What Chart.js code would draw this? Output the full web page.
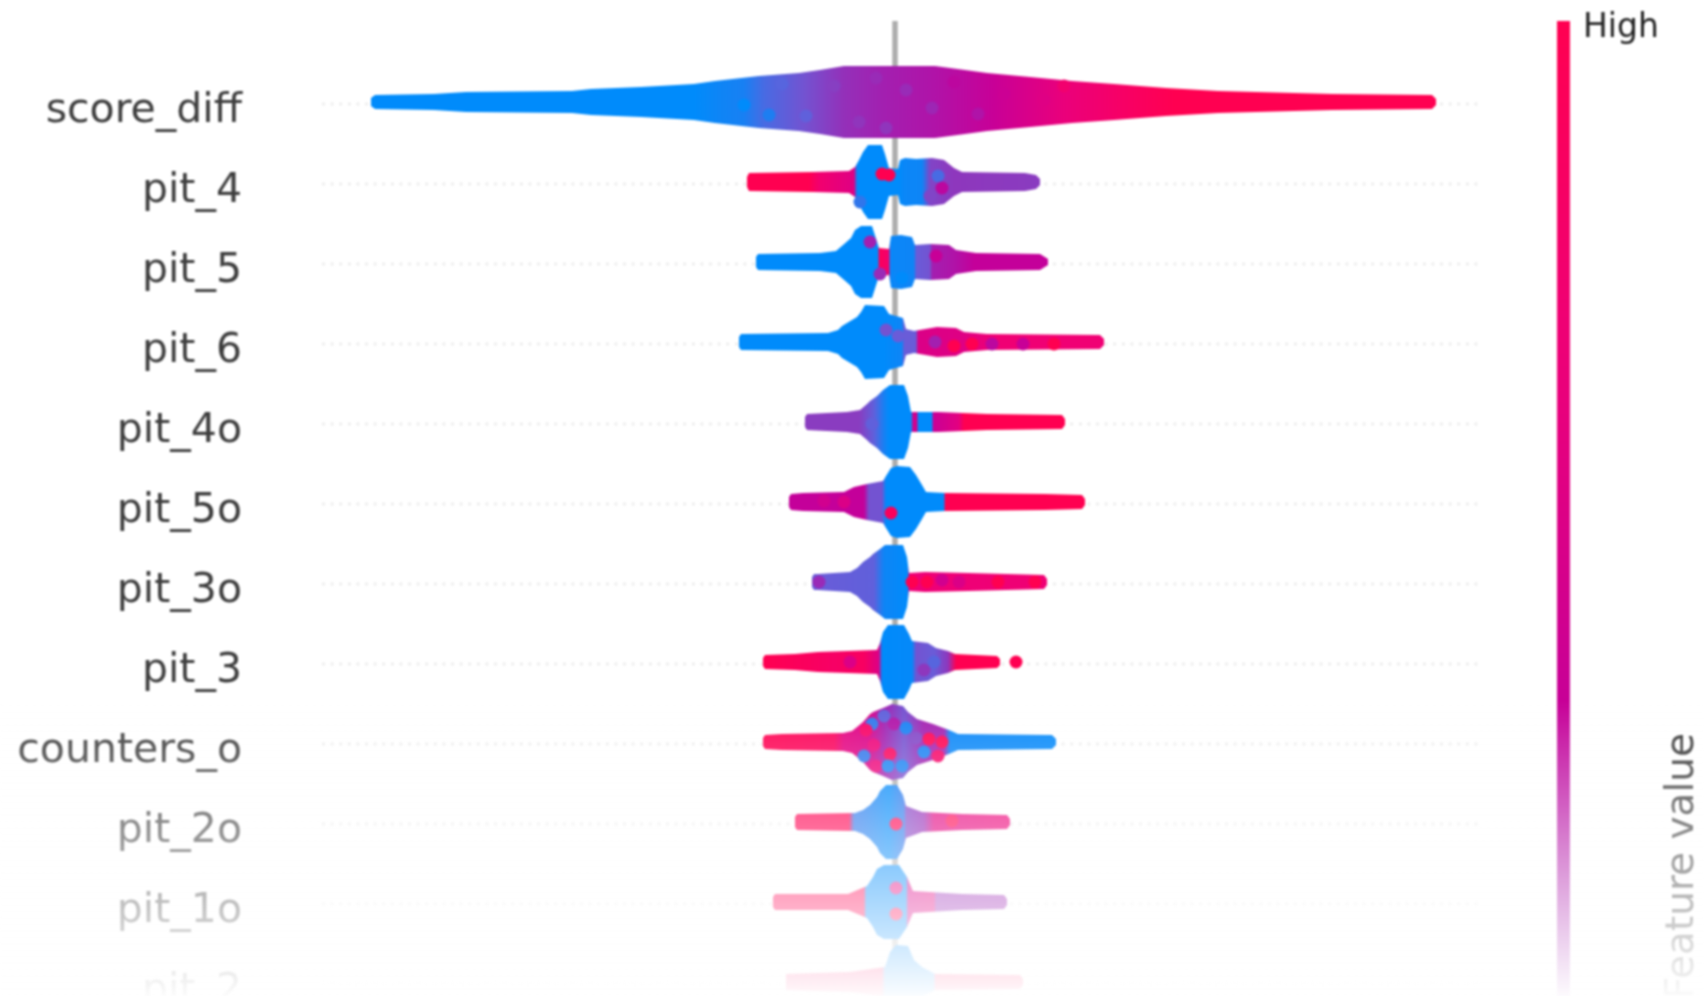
<!DOCTYPE html>
<html>
<head>
<meta charset="utf-8">
<style>
html,body{margin:0;padding:0;background:#fff;overflow:hidden}
canvas{display:block;filter:blur(0.8px)}
</style>
<script src="https://cdn.jsdelivr.net/npm/chart.js@4"></script>
</head>
<body>
<canvas id="c" width="1704" height="996"></canvas>
<script>
// Feature rows, top to bottom
const rowNames = ['score_diff','pit_4','pit_5','pit_6','pit_4o','pit_5o','pit_3o','pit_3','counters_o','pit_2o','pit_1o','pit_2'];
const colorbarTop = 'High';
const colorbarTitle = 'Feature value';

// Impact outline (x), swarm half height (h), feature value along x (fv), loose dots [x, dy, fv]
const score_diff_x = [-523,-519,-460,-428,-322,-303,-253,-200,-179,-135,-95,-74,-50,41,71,93,136,178,220,272,324,438,538,542];
const score_diff_h = [4,7,8,10,11,13,15,18,21,26,29,32,36,36,32,29,25,21,18,14,11,8,7,3];
const score_diff_fv = [[-523,0],[-200,0],[-175,.03],[-150,.05],[-130,.15],[-90,.25],[-50,.38],[-10,.45],[40,.5],[100,.6],[170,.78],[230,.9],[280,1],[542,1]];
const score_diff_dots = [[-150,3,0],[-125,13,.06],[-112,-18,.18],[-88,14,.2],[-60,-16,.32],[-35,20,.36],[-18,-24,.4],[-8,26,.36],[12,-12,.4],[38,6,.42],[60,-20,.55],[84,12,.5],[110,-8,.62],[150,-2,.72],[170,-16,.85]];

const pit_4_x = [-147,-145,-81,-45,-39,-35,-31,-26,-12,-9,-5,4,6,11,22,38,50,60,68,131,142,146];
const pit_4_h = [5,9,10,11,15,22,30,37,37,28,14,13,22,24,23,24,22,14,10,9,7,3];
const pit_4_fv = [[-147,1],[-85,1],[-75,.85],[-40,.72],[-37,0],[5,0],[10,.02],[28,.03],[36,.3],[60,.35],[146,.33]];
const pit_4_dots = [[-12,-8,1],[-5,-7,1],[-34,20,.1],[44,-6,.15],[48,6,.55],[36,14,.3]];

const pit_5_x = [-138,-136,-74,-58,-51,-43,-39,-33,-22,-15,-5,-3,7,18,21,36,55,62,82,146,154];
const pit_5_h = [5,8,9,11,17,24,32,36,36,14,13,26,27,25,17,18,17,12,9,8,3];
const pit_5_fv = [[-138,0],[-16,0],[-15,.95],[-5,.85],[-4,.02],[20,.03],[22,.22],[36,.25],[38,.45],[60,.5],[80,.58],[154,.58]];
const pit_5_dots = [[-24,-20,.45],[-14,12,.4],[8,16,0],[42,-6,.6]];

const pit_6_x = [-155,-153,-66,-56,-52,-47,-37,-33,-29,-10,-5,9,12,20,43,62,70,93,206,210];
const pit_6_h = [5,8,9,12,16,19,25,30,37,36,28,24,13,11,15,14,10,8,7,3];
const pit_6_fv = [[-155,0],[-10,0],[8,.03],[10,.22],[22,.22],[24,.7],[70,.72],[100,.82],[210,.82]];
const pit_6_dots = [[-8,-12,.25],[4,-6,.22],[41,0,.45],[60,4,1],[78,2,1],[98,2,.55],[129,2,.6],[160,2,1]];

const pit_4o_x = [-89,-87,-47,-34,-27,-24,-17,-11,-4,10,14,17,44,93,168,171];
const pit_4o_h = [5,8,10,12,18,21,26,32,37,37,26,10,10,8,7,3];
const pit_4o_fv = [[-89,.33],[-35,.33],[-20,.2],[-10,.05],[-5,0],[17,0],[19,.65],[23,.65],[24,0],[38,0],[39,.6],[65,.75],[70,1],[171,1]];
const pit_4o_dots = [[-22,2,.2]];

const pit_5o_x = [-105,-103,-91,-50,-40,-27,-11,-8,-3,3,16,22,28,32,51,151,188,191];
const pit_5o_h = [5,8,9,10,15,18,21,26,34,36,35,27,17,10,9,8,7,3];
const pit_5o_fv = [[-105,.58],[-30,.58],[-25,.25],[-12,.25],[-8,0],[50,0],[51,1],[191,1]];
const pit_5o_dots = [[-3,11,.95],[-70,-1,.65],[-50,0,.7]];

const pit_3o_x = [-82,-80,-76,-44,-37,-31,-24,-21,-14,-9,9,13,15,31,74,150,153];
const pit_3o_h = [5,8,8,10,14,20,25,28,33,37,37,25,9,10,9,7,3];
const pit_3o_fv = [[-82,.22],[-20,.2],[-10,.03],[14,0],[15,.8],[153,.82]];
const pit_3o_dots = [[18,0,1],[33,0,1],[48,-2,.65],[65,0,.7],[104,0,1],[141,0,1],[-75,0,.4]];

const pit_3_x = [-131,-129,-99,-76,-17,-14,-11,-6,10,15,18,34,42,54,61,103,106];
const pit_3_h = [4,7,8,10,12,19,30,37,37,28,21,19,14,11,8,6,3];
const pit_3_fv = [[-131,1],[-60,.9],[-30,.92],[-15,.7],[-12,0],[18,.01],[22,.25],[40,.22],[54,.35],[62,1],[106,1]];
const pit_3_dots = [[122,0,1],[-44,0,.7],[30,8,.35],[40,0,.18]];

const counters_o_x = [-131,-129,-112,-51,-42,-37,-31,-24,-21,-11,-2,9,14,23,39,55,64,158,162];
const counters_o_h = [4,7,8,9,11,15,20,28,30,34,38,36,30,23,18,12,8,7,3];
const counters_o_fv = [[-131,1],[-60,.95],[-50,.75],[-25,.7],[-10,.45],[10,.25],[30,.45],[50,.45],[56,.02],[162,.01]];
const counters_o_dots = [[-10,-26,.2],[-22,-18,.1],[-20,3,.8],[-28,-12,.9],[0,-18,.5],[12,-14,.05],[22,-4,.3],[35,-3,1],[48,0,1],[30,10,.05],[-4,12,.95],[-18,24,.8],[-6,24,.05],[8,24,.05],[-30,14,.1],[44,14,.9]];

const pit_2o_x = [-99,-97,-39,-31,-24,-17,-14,-8,3,9,12,28,68,113,116];
const pit_2o_h = [5,8,9,12,17,25,31,37,37,27,16,10,8,7,3];
const pit_2o_fv = [[-99,1],[-45,1],[-40,.1],[-5,0],[10,.1],[12,.3],[30,.4],[40,.75],[116,.8]];
const pit_2o_dots = [[2,2,1],[58,-1,1]];

const pit_1o_x = [-121,-119,-46,-27,-21,-17,-10,5,13,19,68,110,113];
const pit_1o_h = [5,8,8,16,25,33,37,37,25,11,8,7,3];
const pit_1o_fv = [[-121,1],[-30,1],[-28,0],[12,0],[14,.7],[40,.75],[42,.4],[113,.42]];
const pit_1o_dots = [[2,-14,.75],[2,12,1]];

const pit_2_x = [-108,-44,-9,-4,2,14,20,28,41,126,129];
const pit_2_h = [8,10,15,30,37,36,22,15,8,7,3];
const pit_2_fv = [[-108,.95],[-12,.95],[-9,0],[40,0],[41,1],[129,1]];
const pit_2_dots = [];

const rowSteps = [score_diff_x,pit_4_x,pit_5_x,pit_6_x,pit_4o_x,pit_5o_x,pit_3o_x,pit_3_x,counters_o_x,pit_2o_x,pit_1o_x,pit_2_x];
const rowSpread = [score_diff_h,pit_4_h,pit_5_h,pit_6_h,pit_4o_h,pit_5o_h,pit_3o_h,pit_3_h,counters_o_h,pit_2o_h,pit_1o_h,pit_2_h];
const rowValues = [score_diff_fv,pit_4_fv,pit_5_fv,pit_6_fv,pit_4o_fv,pit_5o_fv,pit_3o_fv,pit_3_fv,counters_o_fv,pit_2o_fv,pit_1o_fv,pit_2_fv];
const rowDots = [score_diff_dots,pit_4_dots,pit_5_dots,pit_6_dots,pit_4o_dots,pit_5o_dots,pit_3o_dots,pit_3_dots,counters_o_dots,pit_2o_dots,pit_1o_dots,pit_2_dots];

// Colour map of the feature value
const cmap = [[0,[0,139,251]],[.22,[106,92,216]],[.33,[138,60,192]],[.45,[163,31,176]],[.58,[196,0,154]],[.8,[238,0,120]],[1,[255,0,81]]];
function fvColor(v){
  for(let i=1;i<cmap.length;i++){
    if(v<=cmap[i][0]){
      const a=cmap[i-1],b=cmap[i],t=(v-a[0])/(b[0]-a[0]);
      return 'rgb('+a[1].map((c,k)=>Math.round(c+(b[1][k]-c)*t)).join(',')+')';
    }
  }
  return 'rgb(255,0,81)';
}
const ROW = 80;
function swarmGradient(chart, stops){
  const sx = chart.scales.x;
  if(!sx) return fvColor(stops[0][1]);
  const x0 = sx.getPixelForValue(stops[0][0]), x1 = sx.getPixelForValue(stops[stops.length-1][0]);
  if(!isFinite(x0) || !isFinite(x1) || x1<=x0) return fvColor(stops[0][1]);
  const g = chart.ctx.createLinearGradient(x0,0,x1,0);
  stops.forEach(s=>g.addColorStop((sx.getPixelForValue(s[0])-x0)/(x1-x0), fvColor(s[1])));
  return g;
}

const datasets = [];
// zero line
datasets.push({type:'line',data:[{x:1,y:-81},{x:1,y:894}],borderColor:'#adadad',borderWidth:5.5,pointRadius:0,order:100,fill:false});
// dotted row guides
rowNames.forEach((n,i)=>{
  datasets.push({type:'line',data:[{x:-572,y:i*ROW+2},{x:586,y:i*ROW+2}],borderColor:'#eeeeee',borderWidth:3,borderDash:[3,5.6],pointRadius:0,order:99,fill:false});
});
rowNames.forEach((n,i)=>{
  const c = i*ROW;
  const stops = rowValues[i];
  const bg = ctx=>swarmGradient(ctx.chart,stops);
  datasets.push({type:'line',label:n,data:rowSteps[i].map((x,k)=>({x,y:c-rowSpread[i][k]})),borderWidth:0,pointRadius:0,
    backgroundColor:bg,fill:'+1',order:50-i});
  datasets.push({type:'line',label:n+' lower',data:rowSteps[i].map((x,k)=>({x,y:c+rowSpread[i][k]})),borderWidth:0,pointRadius:0,
    fill:false,order:50-i});
  datasets.push({type:'scatter',label:n+' dots',data:rowDots[i].map(d=>({x:d[0],y:c+d[1],v:d[2]})),showLine:false,pointRadius:6.5,pointBorderWidth:0,
    pointBackgroundColor:ctx=>ctx.raw?fvColor(ctx.raw.v):'#000',order:20-i});
});

const decorations = {
  id:'decorations',
  afterDraw(chart){
    const ctx = chart.ctx;
    ctx.save();
    // colour bar
    const g = ctx.createLinearGradient(0,21,0,996);
    for(let k=0;k<=10;k++){ g.addColorStop(k/10, fvColor(1-0.574*k/10)); }
    ctx.fillStyle = g;
    ctx.fillRect(1557,21,13,975);
    ctx.fillStyle = '#222';
    ctx.font = '33px "DejaVu Sans"';
    ctx.textAlign='left'; ctx.textBaseline='alphabetic';
    ctx.fillText(colorbarTop,1583,37);
    ctx.save();
    ctx.translate(1693,733);
    ctx.rotate(-Math.PI/2);
    ctx.textAlign='right';
    ctx.fillStyle='#333';
    ctx.font='39px "DejaVu Sans"';
    ctx.fillText(colorbarTitle,0,0);
    ctx.restore();
    // fade to white at the foot of the figure
    const f = ctx.createLinearGradient(0,700,0,996);
    f.addColorStop(0,'rgba(255,255,255,0)');
    f.addColorStop(1,'rgba(255,255,255,0.98)');
    ctx.fillStyle=f;
    ctx.fillRect(0,700,1704,296);
    ctx.restore();
  }
};

new Chart(document.getElementById('c'),{
  type:'line',
  data:{datasets},
  plugins:[decorations],
  options:{
    responsive:false,animation:false,
    layout:{padding:0,autoPadding:false},
    plugins:{legend:{display:false},tooltip:{enabled:false},title:{display:false}},
    scales:{
      x:{type:'linear',display:false,min:-640,max:810,offset:false},
      y:{type:'linear',reverse:true,min:-102,max:894,offset:false,
        afterFit(s){s.width=254;s.paddingTop=0;s.paddingBottom=0;},
        afterBuildTicks(s){s.ticks=rowNames.map((_,i)=>({value:i*ROW}));},
        grid:{display:false,drawTicks:false,offset:false},border:{display:false},
        ticks:{autoSkip:false,padding:12,labelOffset:9,color:'#3d3d3d',font:{family:'"DejaVu Sans"',size:41},
          callback:v=>rowNames[Math.round(v/ROW)]}
      }
    }
  }
});
</script>
</body>
</html>
